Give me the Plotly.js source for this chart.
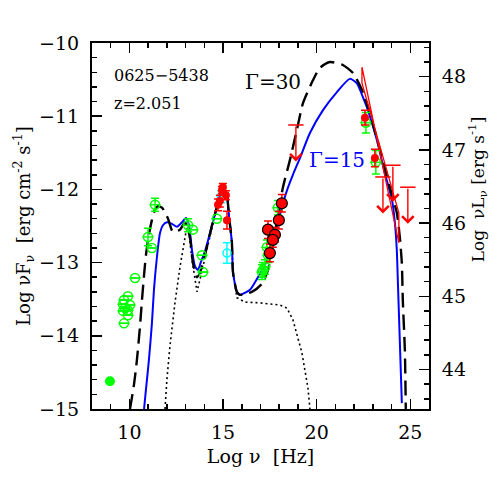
<!DOCTYPE html>
<html>
<head>
<meta charset="utf-8">
<script src="https://cdn.plot.ly/plotly-3.0.1.min.js"></script>
<style>html,body{margin:0;padding:0;background:#fff}#sed{width:501px;height:501px}</style>
</head>
<body>
<div id="sed"></div>
<script>
// SED of 0625-5438: log nu vs log nuFnu, two jet models + thermal components

// model, Gamma=30 (dashed)
const g30X = [10.03,10.24,10.40,10.56,10.67,10.78,10.88,11.04,11.20,11.36,11.52,11.74,12.06,12.32,12.70,12.97,13.23,13.39,13.61,13.82,14.03,14.41,14.67,14.83,14.99,15.21,15.31,15.47,15.53,15.74,15.90,16.54,17.08,17.40,17.66,17.93,18.20,18.57,18.94,19.27,19.80,20.17,20.71,21.40,21.94,22.42,22.84,23.38,23.80,24.28,24.44,24.55,24.60,24.71,24.76];
const g30Y = [-15.0,-14.67,-14.33,-13.88,-13.51,-13.17,-12.90,-12.62,-12.42,-12.28,-12.23,-12.25,-12.40,-12.58,-12.55,-12.45,-12.65,-13.00,-13.20,-13.10,-12.90,-12.49,-12.24,-12.08,-11.94,-12.08,-12.35,-12.72,-13.13,-13.40,-13.44,-13.40,-13.29,-13.10,-12.76,-12.35,-11.97,-11.60,-11.19,-10.82,-10.51,-10.34,-10.26,-10.30,-10.41,-10.64,-10.96,-11.46,-11.87,-12.32,-12.65,-13.01,-13.51,-14.19,-15.0];

// model, Gamma=15 (blue)
const g15X = [10.78,10.88,11.04,11.20,11.31,11.47,11.63,11.79,12.00,12.27,12.54,12.80,13.02,13.18,13.34,13.50,13.66,13.82,14.03,14.41,14.67,14.83,14.99,15.21,15.31,15.47,15.53,15.74,15.90,16.44,16.86,17.24,17.61,17.93,18.20,18.46,18.73,19.11,19.64,20.33,21.08,21.77,22.15,22.47,22.74,23.22,23.64,24.02,24.18,24.28,24.34,24.44,24.55];
const g15Y = [-15.0,-14.74,-14.33,-13.83,-13.37,-12.92,-12.60,-12.49,-12.45,-12.47,-12.51,-12.45,-12.39,-12.49,-12.83,-13.05,-13.10,-12.99,-12.85,-12.49,-12.24,-12.08,-11.94,-12.08,-12.35,-12.72,-13.13,-13.40,-13.44,-13.37,-13.20,-13.03,-12.76,-12.45,-12.19,-11.98,-11.80,-11.57,-11.23,-10.92,-10.67,-10.49,-10.55,-10.74,-10.92,-11.33,-11.78,-12.14,-12.46,-12.83,-13.28,-14.06,-14.92];

// torus + disk + corona (dotted)
const thX = [11.90,12.00,12.16,12.43,12.70,12.86,13.02,13.13,13.34,13.61,13.82,14.03,14.41,14.67,14.83,14.99,15.21,15.31,15.47,15.53,15.74,16.17,16.97,18.04,18.41,18.73,19.00,19.21,19.37,19.53,19.64];
const thY = [-15.0,-14.60,-14.15,-13.55,-13.06,-12.79,-12.58,-12.50,-12.96,-13.40,-13.17,-12.92,-12.49,-12.24,-12.08,-11.94,-12.08,-12.35,-12.72,-13.13,-13.48,-13.54,-13.55,-13.58,-13.62,-13.78,-14.02,-14.23,-14.47,-14.70,-15.0];

// archival data (green open)
const arcX = [11.37,10.99,11.20,10.30,9.92,9.71,9.66,10.03,9.76,9.92,9.66,9.92,9.71,13.13,13.39,13.87,13.93,14.67,17.93,17.34,17.40,17.24,17.13,17.08,22.63,23.16];
const arcY = [-12.21,-12.65,-12.80,-13.21,-13.46,-13.51,-13.57,-13.58,-13.62,-13.65,-13.66,-13.72,-13.83,-12.49,-12.55,-12.90,-13.13,-12.40,-12.25,-12.79,-12.90,-13.06,-13.10,-13.13,-11.09,-11.63];
const arcE = [0.09,0.12,0,0,0,0,0,0,0,0,0,0,0,0.09,0,0,0,0,0.1,0.1,0.1,0.1,0.1,0.1,0.14,0.16];
const arcFX = [8.96], arcFY = [-14.62];

// simultaneous data (red)
const redX = [14.99,14.94,15.15,14.83,14.73,15.21,22.58,23.11];
const redY = [-11.97,-12.01,-12.08,-12.16,-12.21,-12.42,-11.02,-11.57];
const redE = [0.05,0.05,0.06,0.08,0.08,0.12,0.10,0.12];
const xrtX = [18.14,17.98,17.40,17.77,17.66,17.50];
const xrtY = [-12.19,-12.42,-12.55,-12.62,-12.69,-12.87];
const xrtE = [0.12,0.12,0.12,0.10,0.10,0.12];
const uvX = [15.21,14.90], uvY = [-12.87,-12.10], uvE = [0.14,0.08];

// upper limits
const ulX = [18.89,23.54,24.07,24.87];
const ulY = [-11.12,-11.83,-11.67,-11.97];

// Fermi bowtie: steep edge then shallow edge
const bowX = [22.42,24.39,24.39,22.42,22.42];
const bowY = [-10.33,-12.73,-12.32,-10.55,-10.33];

const LOFF = 58.46; // log nuLnu - log nuFnu
const FONT = "DejaVu Serif";

const traces = [
  {x:thX,y:thY,mode:"lines",line:{color:"#000",width:1.6,dash:"2px,3px"}},
  {x:g15X,y:g15Y,mode:"lines",line:{color:"#0000ff",width:2,shape:"spline",smoothing:0.6}},
  {x:g30X,y:g30Y,mode:"lines",line:{color:"#000",width:2.4,dash:"15px,7px",shape:"spline",smoothing:0.6}},
  {x:bowX,y:bowY,mode:"lines",line:{color:"#ff0000",width:1.3}},
  {x:arcX,y:arcY,mode:"markers",marker:{symbol:"circle-open",size:9,color:"#00ff00",line:{width:1.5}},
    error_y:{type:"data",array:arcE,color:"#00ff00",thickness:1.5,width:4}},
  {x:arcX,y:arcY,mode:"markers",marker:{symbol:"line-ew-open",size:8,color:"#00ff00",line:{width:1.3}}},
  {x:arcFX,y:arcFY,mode:"markers",marker:{symbol:"circle",size:10,color:"#00ff00"}},
  {x:uvX,y:uvY,mode:"markers",marker:{symbol:"circle-open",size:8,color:"#00ffff",line:{width:1.5}},
    error_y:{type:"data",array:uvE,color:"#00ffff",thickness:1.5,width:4}},
  {x:redX,y:redY,mode:"markers",marker:{symbol:"circle",size:8,color:"#ff0000"},
    error_y:{type:"data",array:redE,color:"#ff0000",thickness:1.5,width:4}},
  {x:xrtX,y:xrtY,mode:"markers",marker:{symbol:"circle",size:11,color:"#ff0000",line:{color:"#000",width:1.2}},
    error_y:{type:"data",array:xrtE,color:"#ff0000",thickness:1.5,width:4}},
  {x:ulX,y:ulY,mode:"markers",marker:{symbol:"line-ew-open",size:11,color:"#ff0000",line:{width:1.5}}},
  {x:[10],y:[48],yaxis:"y2",mode:"markers",marker:{opacity:0},hoverinfo:"skip"}
];

const ann = ulX.map((x,i)=>({x:x,y:ulY[i]-0.5,ax:x,ay:ulY[i],xref:"x",yref:"y",axref:"x",ayref:"y",
  text:"",showarrow:true,arrowhead:4,arrowsize:1.6,arrowwidth:1.4,arrowcolor:"#ff0000",standoff:0,startstandoff:0}));
const txt = (x,y,t,c,s)=>({x:x,y:y,xref:"x",yref:"y",xanchor:"left",yanchor:"middle",showarrow:false,text:t,font:{family:FONT,size:s,color:c}});
ann.push(txt(9.07,-10.44,"0625−5438","#000",16));
ann.push(txt(9.07,-10.82,"z=2.051","#000",16));
ann.push(txt(16.06,-10.53,"Γ=30","#000",20));
ann.push(txt(19.48,-11.60,"Γ=15","#0000ff",20));
ann.push({x:1.145,y:0.6,xref:"paper",yref:"paper",xanchor:"center",yanchor:"middle",showarrow:false,textangle:-90,
  text:"Log  νL<sub>ν</sub> [erg s<sup>-1</sup>]",font:{family:FONT,size:17,color:"#000"}});

const ax = {showgrid:false,zeroline:false,showline:true,linecolor:"#000",linewidth:2,
  ticks:"inside",ticklen:10,tickwidth:1.5,tickcolor:"#000",tickfont:{family:FONT,size:19,color:"#000"}};

const layout = {
  width:501,height:501,margin:{l:92,r:72,t:43,b:92},
  paper_bgcolor:"#fff",plot_bgcolor:"#fff",showlegend:false,
  font:{family:FONT,color:"#000"},
  xaxis:Object.assign({},ax,{range:[8,26],dtick:5,tick0:0,mirror:"ticks",ticklabelstandoff:5,
    minor:{dtick:1,ticklen:5,ticks:"inside",tickcolor:"#000"},
    title:{text:"Log ν  [Hz]",font:{family:FONT,size:19},standoff:8}}),
  yaxis:Object.assign({},ax,{range:[-15,-10],dtick:1,tick0:0,ticklabelstandoff:7,
    minor:{dtick:0.2,ticklen:5,ticks:"inside",tickcolor:"#000"},
    tickformat:"d",
    title:{text:"Log νF<sub>ν</sub>  [erg cm<sup>-2</sup> s<sup>-1</sup>]",font:{family:FONT,size:18},standoff:4}}),
  yaxis2:Object.assign({},ax,{overlaying:"y",side:"right",range:[-15+LOFF,-10+LOFF],dtick:1,tick0:0,ticklabelstandoff:7,
    minor:{dtick:0.2,tick0:0,ticklen:5,ticks:"inside",tickcolor:"#000"}}),
  annotations:ann
};

Plotly.newPlot("sed",traces,layout,{displayModeBar:false,staticPlot:true});
</script>
</body>
</html>
